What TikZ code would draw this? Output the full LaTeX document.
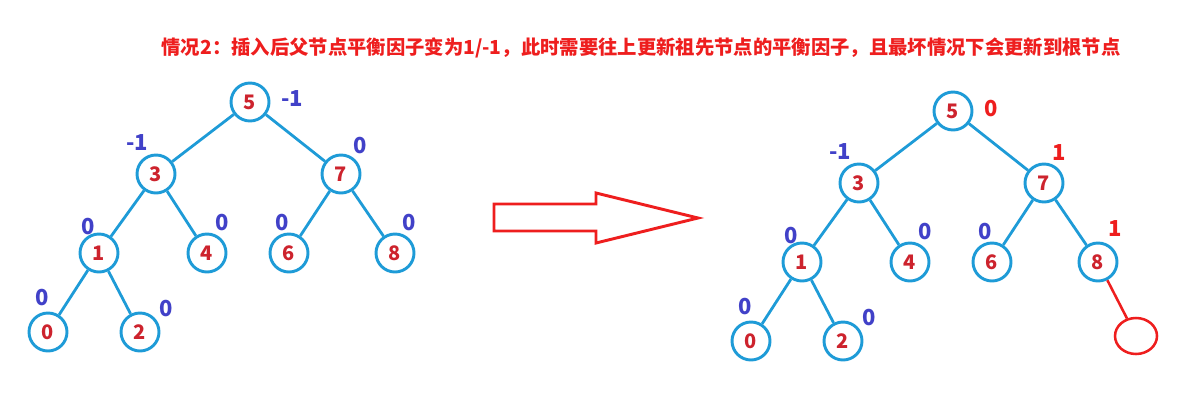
\documentclass[tikz,border=0pt]{standalone}
\usepackage{fontspec}
\setmainfont{Noto Sans CJK SC}
\usetikzlibrary{shapes.geometric}

\definecolor{ringblue}{RGB}{30,155,215}
\definecolor{numred}{RGB}{205,35,45}
\definecolor{bfblue}{RGB}{65,65,200}
\definecolor{bfred}{RGB}{238,30,30}

\begin{document}
\begin{tikzpicture}[x=0.75pt,y=-0.75pt,
	ring/.style={circle,draw=ringblue,line width=2.2pt,minimum size=28.5pt,
		inner sep=0pt,text=numred,font=\fontsize{15}{17}\selectfont\bfseries},
	link/.style={draw=ringblue,line width=2.1pt},
	bf/.style={text=bfblue,font=\fontsize{16.5}{18}\selectfont\bfseries},
	bfnew/.style={text=bfred,font=\fontsize{16.5}{18}\selectfont\bfseries}]

	\useasboundingbox (0,0) rectangle (1187,414);

	\newcommand\AVLTree{
	\node[ring] at (250,102) (n5) {5};
	\node[ring] at (156,174) (n3) {3};
	\node[ring] at (341,174) (n7) {7};
	\node[ring] at (99,253) (n1) {1};
	\node[ring] at (207,253) (n4) {4};
	\node[ring] at (289,253) (n6) {6};
	\node[ring] at (395,253) (n8) {8};
	\node[ring] at (48,332) (n0) {0};
	\node[ring] at (140,332) (n2) {2};
	\draw[link] (n5) -- (n3);
	\draw[link] (n5) -- (n7);
	\draw[link] (n3) -- (n1);
	\draw[link] (n3) -- (n4);
	\draw[link] (n7) -- (n6);
	\draw[link] (n7) -- (n8);
	\draw[link] (n1) -- (n0);
	\draw[link] (n1) -- (n2);
	\node[bf] at (137,143) (b3) {-1};
	\node[bf] at (88,227) (b1) {0};
	\node[bf] at (222,223) (b4) {0};
	\node[bf] at (282,223) (b6) {0};
	\node[bf] at (42,298) (b0) {0};
	\node[bf] at (166,309) (b2) {0};
	}

\node[text=bfred,font=\fontsize{14.5}{17}\selectfont\bfseries] at (641,48) (title)
	{情况2：插入后父节点平衡因子变为1/-1，此时需要往上更新祖先节点的平衡因子，且最坏情况下会更新到根节点};

\begin{scope}
	\AVLTree
	\node[bf] at (292,99) (b5) {-1};
	\node[bf] at (360,146) (b7) {0};
	\node[bf] at (409,223) (b8) {0};
\end{scope}

	\draw[draw=bfred,line width=2.2pt,line join=miter] (494,204) -- (596,204) --
	(596,193) -- (698,218) -- (596,243) -- (596,231) -- (494,231) -- cycle;

\begin{scope}[shift={(703,9)}]
	\AVLTree
	\node[bfnew] at (288,100) (b5) {0};
	\node[bfnew] at (356,144) (b7) {1};
	\node[bfnew] at (412,220) (b8) {1};
	\node[ellipse,draw=bfred,line width=1.9pt,minimum width=31.5pt,
		minimum height=27pt] at (433,327) (nnew) {};
	\draw[draw=bfred,line width=1.9pt] (n8) -- (nnew);
\end{scope}

\end{tikzpicture}
\end{document}
